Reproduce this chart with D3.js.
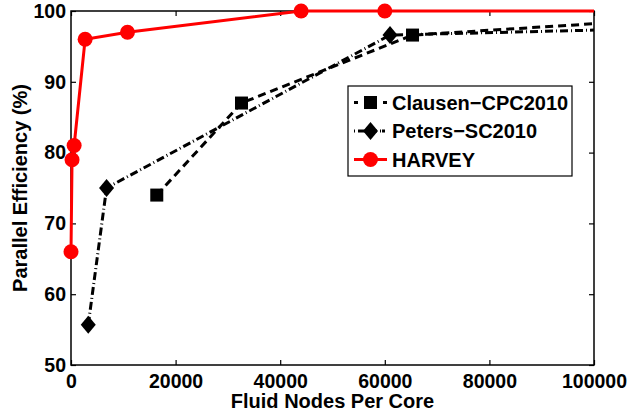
<!DOCTYPE html>
<html>
<head>
<meta charset="utf-8">
<script src="https://cdn.jsdelivr.net/npm/d3@7"></script>
<style>
  body { margin: 0; background: #fff; }
  svg { display: block; font-family: "Liberation Sans", Arial, sans-serif; font-weight: bold; }
</style>
</head>
<body>
<script>
// series values
var clausenX = [16400, 32600, 65300, 100000];
var clausenY = [74, 87, 96.6, 98.2];
var petersX = [3300, 6800, 61000, 100000];
var petersY = [55.7, 75, 96.6, 97.3];
var harveyX = [0, 200, 600, 2700, 10800, 44000, 60000, 100000];
var harveyY = [66, 79, 81, 96, 97, 100, 100, 100];

var xTicks = [0, 20000, 40000, 60000, 80000, 100000];
var yTicks = [50, 60, 70, 80, 90, 100];
var seriesNames = ["Clausen\u2212CPC2010", "Peters\u2212SC2010", "HARVEY"];

var width = 637;
var height = 411;
var plotLeft = 71, plotRight = 594, plotTop = 11, plotBottom = 365;

var svg = d3.select("body").append("svg")
  .attr("width", width)
  .attr("height", height);

var x = d3.scaleLinear().domain([0, 100000]).range([plotLeft, plotRight]);
var y = d3.scaleLinear().domain([50, 100]).range([plotBottom, plotTop]);

function zip(xs, ys) {
  return xs.map(function(v, i) { return { x: v, y: ys[i] }; });
}

// axes, ticks point inward
svg.append("g")
  .attr("transform", `translate(0,${plotBottom})`)
  .call(d3.axisBottom(x).tickValues(xTicks).tickFormat(d3.format("d"))
    .tickSizeInner(-5).tickSizeOuter(0).tickPadding(9))
  .call(g => g.select(".domain").remove());

svg.append("g")
  .attr("transform", `translate(${plotLeft},0)`)
  .call(d3.axisLeft(y).tickValues(yTicks)
    .tickSizeInner(-5).tickSizeOuter(0).tickPadding(5))
  .call(g => g.select(".domain").remove());

svg.append("g")
  .attr("transform", `translate(0,${plotTop})`)
  .call(d3.axisTop(x).tickValues(xTicks).tickFormat("")
    .tickSizeInner(-5).tickSizeOuter(0))
  .call(g => g.select(".domain").remove());

svg.append("g")
  .attr("transform", `translate(${plotRight},0)`)
  .call(d3.axisRight(y).tickValues(yTicks).tickFormat("")
    .tickSizeInner(-5).tickSizeOuter(0))
  .call(g => g.select(".domain").remove());

svg.selectAll(".tick line").attr("stroke", "#000").attr("stroke-width", 1.2);
svg.selectAll(".tick text")
  .attr("fill", "#000")
  .style("font-size", "19.5px")
  .style("font-family", "Liberation Sans, Arial, sans-serif")
  .style("font-weight", "bold");

// frame
svg.append("rect")
  .attr("x", plotLeft).attr("y", plotTop)
  .attr("width", plotRight - plotLeft).attr("height", plotBottom - plotTop)
  .attr("fill", "none").attr("stroke", "#000").attr("stroke-width", 1.5);

var line = d3.line().x(d => x(d.x)).y(d => y(d.y));
var xMax = x.domain()[1];

var series = [
  { name: seriesNames[0], data: zip(clausenX, clausenY), color: "#000", dash: "8,5", shape: "square" },
  { name: seriesNames[1], data: zip(petersX, petersY), color: "#000", dash: "8,3,1,3", shape: "diamond" },
  { name: seriesNames[2], data: zip(harveyX, harveyY), color: "#ff0000", dash: null, shape: "circle" }
];

function drawMarker(g, shape, cx, cy, color) {
  if (shape == "square") {
    g.append("rect").attr("x", cx - 6.5).attr("y", cy - 6.5)
      .attr("width", 13).attr("height", 13).attr("fill", color);
  } else if (shape == "diamond") {
    g.append("path")
      .attr("d", `M${cx},${cy - 9}L${cx + 7.5},${cy}L${cx},${cy + 9}L${cx - 7.5},${cy}Z`)
      .attr("fill", color);
  } else {
    g.append("circle").attr("cx", cx).attr("cy", cy).attr("r", 7.5).attr("fill", color);
  }
}

series.forEach(function(s) {
  var g = svg.append("g");
  g.append("path")
    .datum(s.data)
    .attr("fill", "none")
    .attr("stroke", s.color)
    .attr("stroke-width", 3)
    .attr("stroke-dasharray", s.dash)
    .attr("d", line);
  s.data.filter(d => d.x < xMax).forEach(function(d) {
    drawMarker(g, s.shape, x(d.x), y(d.y), s.color);
  });
});

// legend
var legend = svg.append("g");
legend.append("rect")
  .attr("x", 348).attr("y", 86).attr("width", 224).attr("height", 90)
  .attr("fill", "#fff").attr("stroke", "#000").attr("stroke-width", 1.2);

series.forEach(function(s, i) {
  var ly = 102.5 + i * 28.5;
  legend.append("line")
    .attr("x1", 354).attr("x2", 387).attr("y1", ly).attr("y2", ly)
    .attr("stroke", s.color).attr("stroke-width", 3)
    .attr("stroke-dasharray", i == 0 ? "4,6,13,6,4" : (i == 1 ? "1,3,8,3,8,3,1" : null));
  drawMarker(legend, s.shape, 370.5, ly, s.color);
  legend.append("text")
    .attr("x", 392).attr("y", ly)
    .attr("dy", "0.36em")
    .style("font-size", "20px")
    .text(s.name);
});

// axis titles
svg.append("text")
  .attr("x", (plotLeft + plotRight) / 2).attr("y", 407.5)
  .attr("text-anchor", "middle")
  .style("font-size", "20px")
  .text("Fluid Nodes Per Core");

svg.append("text")
  .attr("transform", `translate(27,${(plotTop + plotBottom) / 2}) rotate(-90)`)
  .attr("text-anchor", "middle")
  .style("font-size", "20px")
  .text("Parallel Efficiency (%)");
</script>
</body>
</html>
